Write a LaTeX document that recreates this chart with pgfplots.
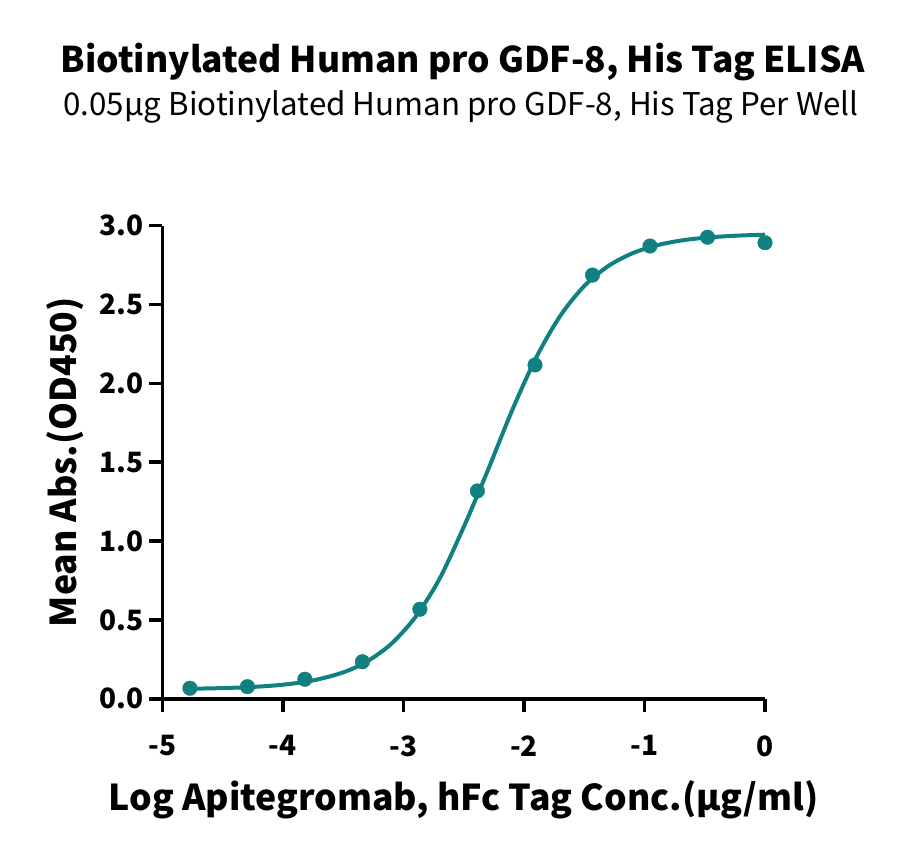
\documentclass[border=0pt]{standalone}
\usepackage{pgfplots}
\pgfplotsset{compat=1.18}
\usepackage{fontspec}
\setmainfont{Noto Sans CJK SC}
\definecolor{teal1}{RGB}{16,128,128}
\begin{document}
\begin{tikzpicture}
\path[use as bounding box] (0,0) rectangle (900bp,855bp);
\node[font=\fontsize{35.4bp}{40bp}\selectfont\bfseries] at (463bp,855bp-62bp) {Biotinylated Human pro GDF-8, His Tag ELISA};
\node[font=\fontsize{31.3bp}{36bp}\selectfont] at (461bp,855bp-107bp) {0.05µg Biotinylated Human pro GDF-8, His Tag Per Well};
\begin{axis}[
  at={(162.3bp,156.2bp)}, anchor=south west,
  scale only axis, width=602.7bp, height=473.1bp,
  xmin=-5, xmax=0, ymin=0, ymax=3,
  axis x line=bottom, axis y line=left,
  axis line style={-, line width=3.5bp, black},
  xtick={-5,-4,-3,-2,-1,0},
  ytick={0,0.5,1,1.5,2,2.5,3},
  yticklabels={0.0,0.5,1.0,1.5,2.0,2.5,3.0},
  xticklabels={-5,-4,-3,-2,-1,0},
  tick align=outside,
  major tick length=13bp,
  tick style={line width=3.5bp, black},
  ticklabel style={font=\fontsize{28bp}{32bp}\selectfont\bfseries},
  xticklabel style={yshift=-20bp},
  yticklabel style={xshift=-2bp},
  xlabel={Log Apitegromab, hFc Tag Conc.(µg/ml)},
  ylabel={Mean Abs.(OD450)},
  label style={font=\fontsize{35.6bp}{40bp}\selectfont\bfseries},
  xlabel style={at={(axis description cs:0.5,0)}, anchor=center, yshift=-101bp},
  ylabel style={at={(axis description cs:0,0.5)}, anchor=center, yshift=97bp},
  clip=false,
]
\addplot[teal1, line width=4bp, smooth, no marks] coordinates {
(-4.77,0.0638) (-4.5,0.0679) (-4.25,0.0752) (-4.0,0.0893) (-3.75,0.1163)
(-3.5,0.1672) (-3.3,0.2374) (-3.1,0.3489) (-2.9,0.5186) (-2.7,0.7611)
(-2.5,1.0882) (-2.3,1.4478) (-2.1,1.8249) (-1.9,2.1613) (-1.7,2.4267)
(-1.5,2.6171) (-1.3,2.7443) (-1.1,2.8251) (-0.9,2.8752) (-0.7,2.9055)
(-0.5,2.9236) (-0.25,2.9363) (0,2.9429)
};
\addplot[teal1, only marks, mark=*, mark size=7.3bp, mark options={fill=teal1, draw=teal1}] coordinates {
(-4.771,0.067) (-4.294,0.077) (-3.817,0.124) (-3.340,0.235) (-2.863,0.568)
(-2.386,1.318) (-1.908,2.117) (-1.431,2.687) (-0.954,2.871) (-0.477,2.927)
(0,2.892)
};
\end{axis}
\end{tikzpicture}
\end{document}
